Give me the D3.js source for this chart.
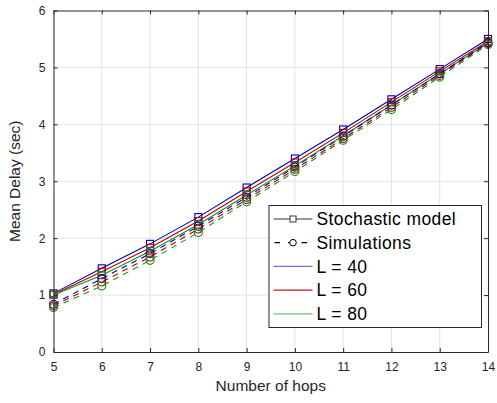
<!DOCTYPE html>
<html>
<head>
<meta charset="utf-8">
<script src="https://cdn.jsdelivr.net/npm/d3@7"></script>
<style>
  html, body { margin: 0; padding: 0; background: #fff; }
  svg { display: block; font-family: "Liberation Sans", Arial, sans-serif; }
</style>
</head>
<body>
<svg id="chart" width="497" height="403"></svg>
<script>
// Number of hops on the x axis
const hops = [5, 6, 7, 8, 9, 10, 11, 12, 13, 14];

// Mean delay (sec) from the stochastic model, per packet length L
const modelL40 = [1.03, 1.47, 1.90, 2.37, 2.89, 3.40, 3.91, 4.44, 4.97, 5.50];
const modelL60 = [1.01, 1.41, 1.83, 2.30, 2.82, 3.33, 3.85, 4.39, 4.93, 5.46];
const modelL80 = [1.00, 1.35, 1.77, 2.24, 2.76, 3.27, 3.80, 4.34, 4.89, 5.43];

// Mean delay (sec) from the simulations
const simL40 = [0.84, 1.29, 1.73, 2.21, 2.72, 3.25, 3.79, 4.34, 4.89, 5.44];
const simL60 = [0.81, 1.23, 1.67, 2.16, 2.68, 3.21, 3.75, 4.30, 4.86, 5.42];
const simL80 = [0.78, 1.16, 1.61, 2.10, 2.64, 3.17, 3.72, 4.26, 4.83, 5.40];

const xTicks = [5, 6, 7, 8, 9, 10, 11, 12, 13, 14];
const yTicks = [0, 1, 2, 3, 4, 5, 6];

const legendLabels = ["Stochastic model", "Simulations", "L = 40", "L = 60", "L = 80"];

const colors = { L40: "#0000b0", L60: "#bb0000", L80: "#1a8c1a" };

const svg = d3.select("#chart");
const margin = { left: 53.5, right: 9, top: 10.5, bottom: 51 };
const W = 497, H = 403;
const x0 = margin.left, x1 = W - margin.right;
const y0 = H - margin.bottom, y1 = margin.top;

const x = d3.scaleLinear().domain([5, 14]).range([x0, x1]);
const y = d3.scaleLinear().domain([0, 6]).range([y0, y1]);

const axisColor = "#262626";

// grid
const grid = svg.append("g");
grid.selectAll("line.gx").data(xTicks.slice(1, -1)).enter().append("line")
  .attr("x1", d => x(d)).attr("x2", d => x(d))
  .attr("y1", y0).attr("y2", y1)
  .attr("stroke", "#e3e3e3").attr("stroke-width", 1);
grid.selectAll("line.gy").data(yTicks.slice(1, -1)).enter().append("line")
  .attr("y1", d => y(d)).attr("y2", d => y(d))
  .attr("x1", x0).attr("x2", x1)
  .attr("stroke", "#e3e3e3").attr("stroke-width", 1);

// series
const series = [
  { vals: modelL40, color: colors.L40, dash: null, marker: "square" },
  { vals: modelL60, color: colors.L60, dash: null, marker: "square" },
  { vals: modelL80, color: colors.L80, dash: null, marker: "square" },
  { vals: simL40, color: colors.L40, dash: "6,5", marker: "circle" },
  { vals: simL60, color: colors.L60, dash: "6,5", marker: "circle" },
  { vals: simL80, color: colors.L80, dash: "6,5", marker: "circle" }
];

const line = d3.line().x((d, i) => x(hops[i])).y(d => y(d));

series.forEach(s => {
  const g = svg.append("g");
  g.append("path").datum(s.vals)
    .attr("d", line)
    .attr("fill", "none")
    .attr("stroke", s.color)
    .attr("stroke-width", 1.1)
    .attr("stroke-dasharray", s.dash);
  if (s.marker === "square") {
    g.selectAll("rect").data(s.vals).enter().append("rect")
      .attr("x", (d, i) => x(hops[i]) - 3.5)
      .attr("y", d => y(d) - 3.5)
      .attr("width", 7).attr("height", 7)
      .attr("fill", "none").attr("stroke", s.color).attr("stroke-width", 1.1);
  } else {
    g.selectAll("circle").data(s.vals).enter().append("circle")
      .attr("cx", (d, i) => x(hops[i]))
      .attr("cy", d => y(d))
      .attr("r", 4)
      .attr("fill", "none").attr("stroke", s.color).attr("stroke-width", 1.1);
  }
});

// axes
const fmt = d3.format("d");
const xAxis = svg.append("g").attr("transform", `translate(0,${y0})`)
  .call(d3.axisBottom(x).tickValues(xTicks).tickFormat(fmt).tickSizeInner(-4).tickSizeOuter(0).tickPadding(10));
const yAxis = svg.append("g").attr("transform", `translate(${x0},0)`)
  .call(d3.axisLeft(y).tickValues(yTicks).tickFormat(fmt).tickSizeInner(-4).tickSizeOuter(0).tickPadding(8));
const xTop = svg.append("g").attr("transform", `translate(0,${y1})`)
  .call(d3.axisTop(x).tickValues(xTicks).tickSizeInner(-4).tickSizeOuter(0).tickFormat(""));
const yRight = svg.append("g").attr("transform", `translate(${x1},0)`)
  .call(d3.axisRight(y).tickValues(yTicks).tickSizeInner(-4).tickSizeOuter(0).tickFormat(""));

[xAxis, yAxis, xTop, yRight].forEach(a => {
  a.selectAll("path").attr("stroke", axisColor).attr("stroke-width", 1);
  a.selectAll("line").attr("stroke", axisColor);
  a.selectAll("text").attr("fill", axisColor).attr("font-size", 12)
    .attr("font-family", "Liberation Sans, Arial, sans-serif");
});

// axis labels
svg.append("text")
  .attr("x", (x0 + x1) / 2).attr("y", 391)
  .attr("text-anchor", "middle").attr("fill", axisColor)
  .attr("font-size", 15.5).text("Number of hops");
svg.append("text")
  .attr("transform", `translate(20,${(y0 + y1) / 2}) rotate(-90)`)
  .attr("text-anchor", "middle").attr("fill", axisColor)
  .attr("font-size", 15.5).text("Mean Delay (sec)");

// legend
const lg = svg.append("g");
const lx = 269, ly = 205.5, lw = 212.5, lh = 122;
lg.append("rect").attr("x", lx).attr("y", ly).attr("width", lw).attr("height", lh)
  .attr("fill", "#fff").attr("stroke", axisColor).attr("stroke-width", 1);
const rowY = i => ly + 13.5 + i * 23.7;
const legendItems = [
  { color: "#333", dash: null, marker: "square" },
  { color: "#000", dash: "6,5", marker: "circle" },
  { color: colors.L40, dash: null, marker: null, op: 0.55 },
  { color: colors.L60, dash: null, marker: null, op: 0.9 },
  { color: colors.L80, dash: null, marker: null, op: 0.6 }
];
legendItems.forEach((it, i) => {
  const cy = rowY(i);
  lg.append("line").attr("x1", 273.5).attr("x2", 312.5).attr("y1", cy).attr("y2", cy)
    .attr("stroke", it.color).attr("stroke-width", 1.2)
    .attr("stroke-opacity", it.op || 1)
    .attr("stroke-dasharray", it.dash ? "5.5,8" : null)
    .attr("stroke-dashoffset", it.dash ? -1 : null);
  if (it.marker === "square") {
    lg.append("rect").attr("x", 293 - 3).attr("y", cy - 3).attr("width", 6).attr("height", 6)
      .attr("fill", "#fff").attr("stroke", it.color).attr("stroke-width", 1);
  } else if (it.marker === "circle") {
    lg.append("circle").attr("cx", 293).attr("cy", cy).attr("r", 3.3)
      .attr("fill", "#fff").attr("stroke", it.color).attr("stroke-width", 1);
  }
  lg.append("text").attr("x", 316.5).attr("y", cy).attr("dy", "0.36em")
    .attr("font-size", 17.5).attr("letter-spacing", 0.4)
    .attr("fill", "#000").text(legendLabels[i]);
});
</script>
</body>
</html>
